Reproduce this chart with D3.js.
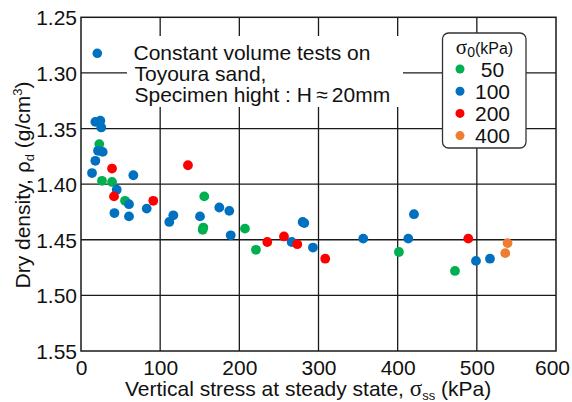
<!DOCTYPE html>
<html>
<head>
<meta charset="utf-8">
<script src="https://cdn.jsdelivr.net/npm/d3@7"></script>
<style>
  html, body { margin: 0; padding: 0; background: #fff; }
  svg { display: block; font-family: "Liberation Sans", Arial, sans-serif; }
</style>
</head>
<body>
<svg id="chart" width="572" height="402"></svg>
<script>
// Steady-state vertical stress (kPa) and dry density (g/cm3), grouped by initial stress sigma0
const sigma50x  = [23.1, 26.5, 39.2, 55.6, 155.7, 154.5, 153.7, 207.1, 221, 401.6, 472.4];
const sigma50y  = [1.364, 1.397, 1.398, 1.415, 1.411, 1.439, 1.441, 1.440, 1.459, 1.461, 1.478];

const sigma100x = [18.1, 24.4, 25.6, 21.5, 27.4, 18.1, 13.9, 66.1, 45.1, 60.6, 83, 42.2, 60.6,
                   116.6, 111.5, 174.7, 187.3, 150.3, 189.1, 266.1, 280, 282, 293, 356.5, 420.6,
                   413.4, 498.9, 516.6];
const sigma100y = [1.344, 1.343, 1.349, 1.370, 1.371, 1.379, 1.390, 1.392, 1.405, 1.418, 1.422,
                   1.426, 1.429, 1.428, 1.434, 1.421, 1.424, 1.429, 1.446, 1.452, 1.434, 1.435,
                   1.457, 1.449, 1.427, 1.449, 1.469, 1.467];

const sigma200x = [39.2, 135.1, 41.7, 91.3, 235.3, 256.4, 273.2, 308.5, 489.2];
const sigma200y = [1.386, 1.383, 1.411, 1.415, 1.452, 1.447, 1.454, 1.467, 1.449];

const sigma400x = [538.8, 535.9];
const sigma400y = [1.453, 1.462];

const xTicks = [0, 100, 200, 300, 400, 500, 600];
const yTicks = [1.25, 1.30, 1.35, 1.40, 1.45, 1.50, 1.55];

const legendLabels = ["50", "100", "200", "400"];
const seriesColors = ["#00B050", "#0070C0", "#FF0000", "#ED7D31"];
const noteLines = ["Constant volume tests on", "Toyoura sand,", "Specimen hight : H\u2009\u2248\u200920mm"];

const seriesX = [sigma50x, sigma100x, sigma200x, sigma400x];
const seriesY = [sigma50y, sigma100y, sigma200y, sigma400y];

const svg = d3.select("#chart");
const plotL = 81, plotR = 556, plotT = 17.3, plotB = 351;

const x = d3.scaleLinear().domain([0, 600]).range([plotL, plotR]);
const y = d3.scaleLinear().domain([1.25, 1.55]).range([plotT, plotB]);

const ink = "#1a1a1a";
const fs = 21;

// grid
const grid = svg.append("g");
grid.selectAll(".vg").data(xTicks.slice(1, -1)).join("line")
  .attr("x1", d => x(d)).attr("x2", d => x(d))
  .attr("y1", plotT).attr("y2", plotB)
  .attr("stroke", ink).attr("stroke-width", 1.3);
grid.selectAll(".hg").data(yTicks.slice(1, -1)).join("line")
  .attr("x1", plotL).attr("x2", plotR)
  .attr("y1", d => y(d)).attr("y2", d => y(d))
  .attr("stroke", ink).attr("stroke-width", 1.3);

// note box (covers grid)
const note = svg.append("g");
note.append("rect").attr("x", 127).attr("y", 36).attr("width", 276).attr("height", 71).attr("fill", "#fff");
note.append("circle").attr("cx", 97.3).attr("cy", 53.3).attr("r", 4.8).attr("fill", seriesColors[1]);
note.selectAll("text").data(noteLines).join("text")
  .attr("x", (d, i) => i === 0 ? 133.5 : 134.5)
  .attr("y", (d, i) => 59.5 + i * 21)
  .attr("font-size", fs).attr("fill", "#111")
  .text(d => d);

// points
const pts = svg.append("g");
seriesX.forEach((xs, si) => {
  pts.append("g").selectAll("circle")
    .data(xs.map((v, i) => [v, seriesY[si][i]]))
    .join("circle")
    .attr("cx", d => x(d[0]))
    .attr("cy", d => y(d[1]))
    .attr("r", 4.9)
    .attr("fill", seriesColors[si]);
});

// frame
svg.append("rect").attr("x", plotL).attr("y", plotT)
  .attr("width", plotR - plotL).attr("height", plotB - plotT)
  .attr("fill", "none").attr("stroke", ink).attr("stroke-width", 1.5);

// tick labels via d3 axes without tick lines
const xAxis = d3.axisBottom(x).tickValues(xTicks).tickSize(0).tickPadding(0).tickFormat(d3.format("d"));
const gx = svg.append("g").attr("transform", `translate(0,${plotB})`).call(xAxis);
gx.select(".domain").remove();
gx.selectAll("text").attr("font-size", fs).attr("font-family", "Liberation Sans, Arial, sans-serif")
  .attr("fill", "#111").attr("dy", null).attr("y", 23.5)
  .attr("dx", d => d === 600 ? -4 : 0);

const yAxis = d3.axisLeft(y).tickValues(yTicks).tickSize(0).tickPadding(4).tickFormat(d3.format(".2f"));
const gy = svg.append("g").attr("transform", `translate(${plotL},0)`).call(yAxis);
gy.select(".domain").remove();
gy.selectAll("text").attr("font-size", fs).attr("font-family", "Liberation Sans, Arial, sans-serif")
  .attr("fill", "#111").attr("dy", "0.36em");

// axis titles
const xt = svg.append("text").attr("x", 125).attr("y", 395.5).attr("font-size", fs).attr("fill", "#111");
xt.append("tspan").text("Vertical stress at steady state, ");
xt.append("tspan").attr("font-family", "Liberation Serif, serif").attr("font-size", 23).text("\u03c3");
xt.append("tspan").attr("font-size", 13).attr("dy", 4).text("ss");
xt.append("tspan").attr("dy", -4).text(" (kPa)");

const yt = svg.append("text")
  .attr("transform", "translate(30,185) rotate(-90)")
  .attr("text-anchor", "middle").attr("font-size", fs).attr("fill", "#111");
yt.append("tspan").text("Dry density, ");
yt.append("tspan").attr("font-family", "DejaVu Sans, sans-serif").attr("font-size", 19).text("\u03c1");
yt.append("tspan").attr("font-size", 13).attr("dy", 4).text("d");
yt.append("tspan").attr("dy", -4).text(" (g/cm");
yt.append("tspan").attr("font-size", 13).attr("dy", -8).text("3");
yt.append("tspan").attr("dy", 8).text(")");

// legend
const lg = svg.append("g");
lg.append("rect").attr("x", 442.5).attr("y", 33).attr("width", 83.5).attr("height", 115)
  .attr("rx", 6).attr("fill", "#fff").attr("stroke", "#333").attr("stroke-width", 1.3);
const lt = lg.append("text").attr("x", 484.5).attr("y", 54).attr("text-anchor", "middle")
  .attr("font-size", 16).attr("fill", "#111");
lt.append("tspan").attr("font-family", "Liberation Serif, serif").attr("font-size", 21).text("\u03c3");
lt.append("tspan").attr("font-size", 14).attr("dy", 3).text("0");
lt.append("tspan").attr("dy", -3).text("(kPa)");

const items = lg.selectAll(".item").data(legendLabels).join("g")
  .attr("transform", (d, i) => `translate(0,${69 + i * 22.2})`);
items.append("circle").attr("cx", 460).attr("cy", 0).attr("r", 4.5)
  .attr("fill", (d, i) => seriesColors[i]);
items.append("text").attr("x", 492.5).attr("y", 0).attr("dy", "0.36em")
  .attr("text-anchor", "middle").attr("font-size", fs).attr("fill", "#111").text(d => d);
</script>
</body>
</html>
